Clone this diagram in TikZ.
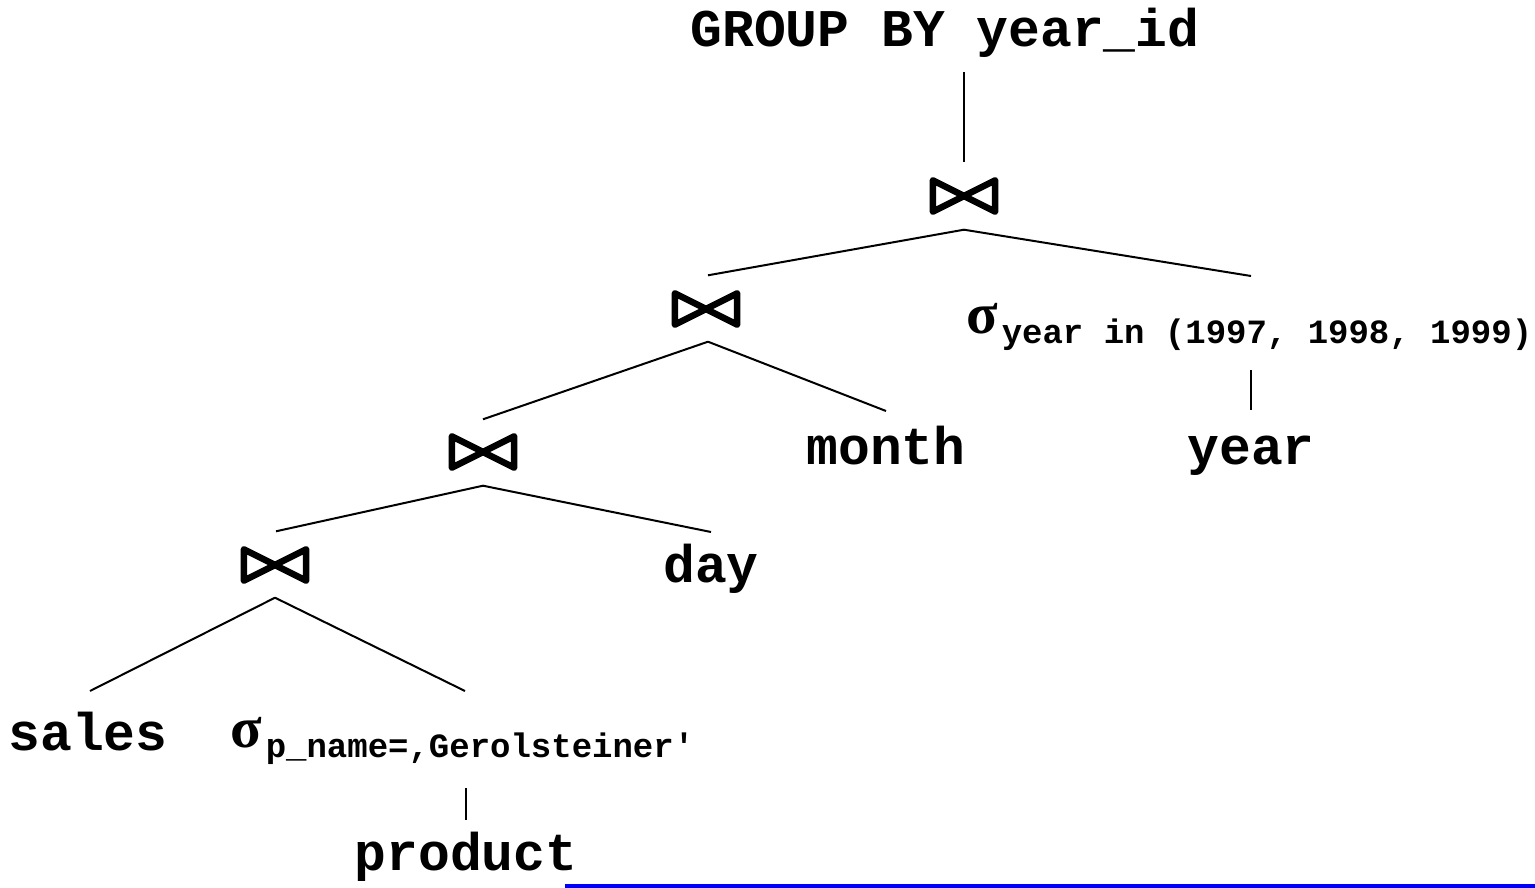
\documentclass[tikz,border=0pt]{standalone}
\usepackage{fontspec}
\usetikzlibrary{calc}
\newfontfamily\monofont{Liberation Mono}
\newfontfamily\greekfont{Liberation Serif}
\newcommand{\reltext}{\monofont\bfseries\fontsize{53}{60}\selectfont}
\newcommand{\condtext}{\monofont\bfseries\fontsize{34}{40}\selectfont}
\newcommand{\selsym}{{\greekfont\bfseries\fontsize{58}{66}\selectfont σ}}
\newcommand{\selection}[1]{\selsym\hspace{4pt}\raisebox{-10pt}{\condtext #1}}
\definecolor{rulerblue}{RGB}{0,0,250}
\tikzset{
  rel/.style={inner sep=0pt, anchor=base, font=\reltext},
  sel/.style={inner sep=0pt, anchor=base west},
  joinop/.style={inner sep=0pt, minimum width=62pt, minimum height=31pt},
  tie/.style={line width=6.5pt, line join=round, line cap=round},
  edge/.style={line width=2pt}
}
\begin{document}
\begin{tikzpicture}[x=1pt,y=-1pt]
\useasboundingbox (0,0) rectangle (1535,888);

% operator tree
\node[rel] (grp) at (945,47) {GROUP BY year\_id};
\node[joinop] (j1) at (964,196) {};
\node[joinop] (j2) at (706,309) {};
\node[joinop] (j3) at (483,452) {};
\node[joinop] (j4) at (275,565) {};
\node[sel] (s1) at (966,333) {\selection{year in (1997, 1998, 1999)}};
\node[sel] (s2) at (230,747) {\selection{p\_name=,Gerolsteiner'}};
\node[rel] (month) at (886,464) {month};
\node[rel] (year) at (1251,464) {year};
\node[rel] (day) at (711,582) {day};
\node[rel] (sales) at (88,750) {sales};
\node[rel] (product) at (466,870) {product};

% join symbols
\foreach \n in {j1,j2,j3,j4}
  \draw[tie] (\n.south west) -- (\n.north east) -- (\n.south east) -- (\n.north west) -- cycle;

% edges
\draw[edge] ($(grp.base -| j1.north)+(0,25)$) -- ($(j1.north)+(0,-18)$);
\draw[edge] ($(j1.south)+(0,18)$) -- ($(j2.north)+(2,-18)$);
\draw[edge] ($(j1.south)+(0,18)$) -- ($(s1.base -| year.base)+(0,-57)$);
\draw[edge] ($(j2.south)+(2,17)$) -- ($(j3.north)+(0,-17)$);
\draw[edge] ($(j2.south)+(2,17)$) -- ($(month.base)+(0,-53)$);
\draw[edge] ($(j3.south)+(0,18)$) -- ($(j4.north)+(1,-18)$);
\draw[edge] ($(j3.south)+(0,18)$) -- ($(day.base)+(0,-50)$);
\draw[edge] ($(j4.south)+(0,17)$) -- ($(sales.base)+(2,-59)$);
\draw[edge] ($(j4.south)+(0,17)$) -- ($(s2.base -| product.base)+(-1,-56)$);
\draw[edge] ($(s1.base -| year.base)+(0,37)$) -- ($(year.base)+(0,-54)$);
\draw[edge] ($(s2.base -| product.base)+(0,41)$) -- ($(product.base)+(0,-50)$);

% slide rule at the bottom edge
\fill[rulerblue] (565,884) rectangle (1535,888);
\end{tikzpicture}
\end{document}
